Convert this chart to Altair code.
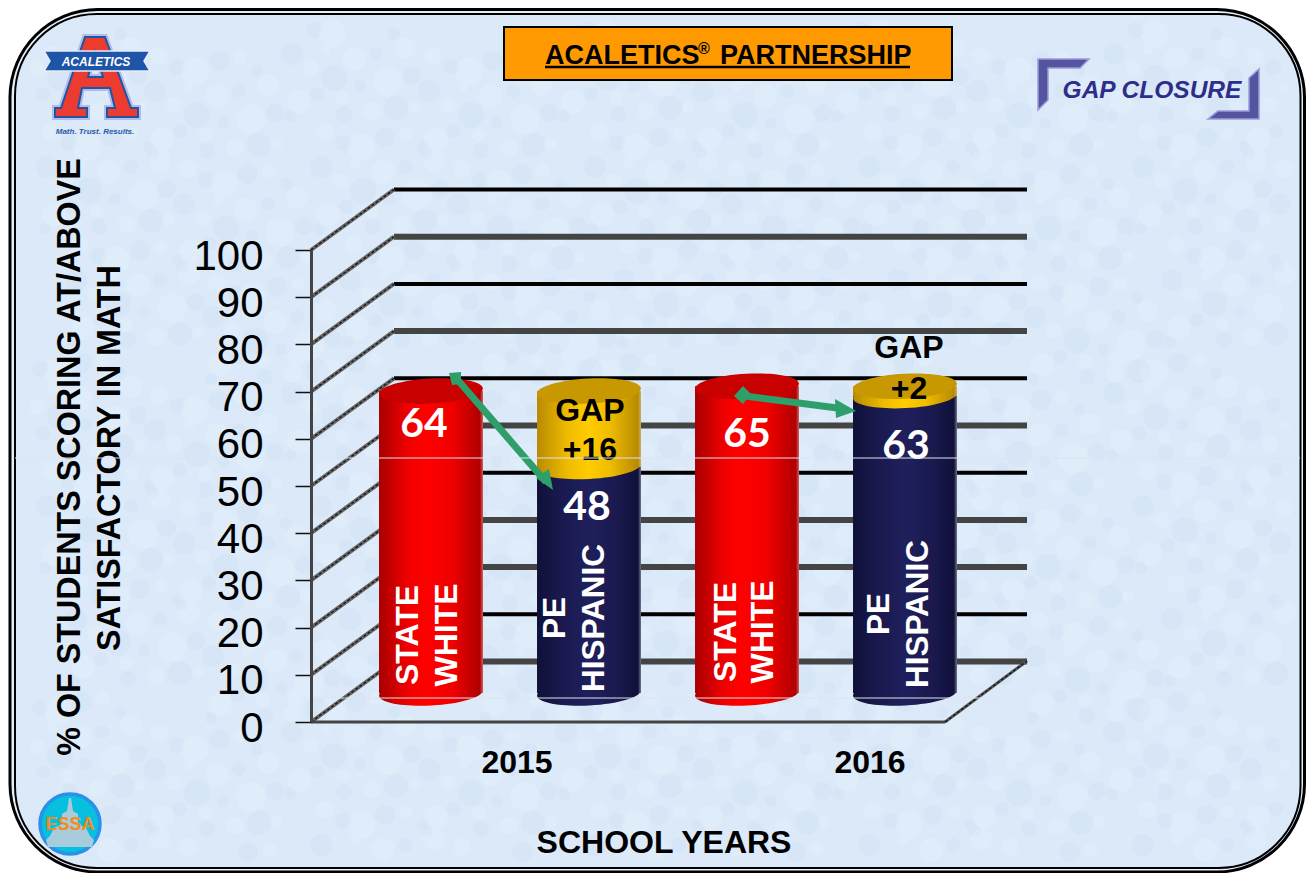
import altair as alt
import pandas as pd

# ---- data ----
ids = ["2015 STATE WHITE", "2015 PE HISPANIC", "2016 STATE WHITE", "2016 PE HISPANIC"]
groups = ["white", "hispanic", "white", "hispanic"]
scores = [64, 48, 65, 63]
gaps = [0, 16, 0, 2]
axis_values = [0, 10, 20, 30, 40, 50, 60, 70, 80, 90, 100]
grid_black = [100, 80, 60, 40, 10]
grid_gray = [90, 70, 50, 30, 20, 0]

# hand placed mottling of the paper texture (x, y, r in a 137x113 tile)
pale_spots = [(12, 9, 9), (48, 24, 14), (93, 11, 7), (121, 38, 11), (27, 58, 8), (70, 49, 12),
              (104, 72, 15), (15, 92, 12), (58, 88, 7), (88, 101, 9), (130, 97, 6), (42, 40, 5)]
blue_spots = [(30, 20, 8), (72, 14, 10), (110, 24, 6), (8, 44, 11), (50, 68, 13), (92, 44, 7),
              (128, 66, 9), (33, 84, 7), (76, 76, 6), (112, 98, 12), (6, 106, 6), (60, 104, 8)]

df = pd.DataFrame({"id": ids, "group": groups, "score": scores, "gap": gaps})
df["total"] = df["score"] + df["gap"]
df["zero"] = 0
white_df = df[df.group == "white"]
hisp_df = df[df.group == "hispanic"]

FONT = "Liberation Sans"
one = alt.Data(values=[{"a": 1}])

x_s = alt.Scale(domain=ids, range=[344, 976], paddingInner=0.342, paddingOuter=0.171)
y_s = alt.Scale(domain=[0, 100], range=[714, 242], nice=False, zero=False)
X = alt.X("id:N", scale=x_s, axis=None, sort=ids)
axis = alt.Axis(values=axis_values, labelFont=FONT, labelFontSize=42, labelColor="black", labelPadding=32,
                labelOffset=6, tickSize=16, tickWidth=1.5, tickColor="#111", domainColor="#444", domainWidth=3,
                offset=-303, zindex=1, title=None, grid=False, labelOverlap=False, labelFlush=False)
def Y(f):
    return alt.Y(f + ":Q", scale=y_s, axis=axis)

OFF = -29
BACK = -60.5
def grad(*stops):
    return {"gradient": "linear", "x1": 0, "x2": 1, "y1": 0, "y2": 0,
            "stops": [{"offset": o, "color": c} for o, c in stops]}

RED = grad((0, "#a80000"), (0.28, "#f00000"), (0.45, "#ff0000"), (0.7, "#f00000"), (0.97, "#b00000"), (1, "#d06060"))
NAVY = grad((0, "#10103a"), (0.25, "#1a1a50"), (0.5, "#1f1f5c"), (0.75, "#1a1a50"), (0.97, "#10103a"), (1, "#70708a"))
GOLD = grad((0, "#b88a00"), (0.3, "#f0bc00"), (0.5, "#ffcc00"), (0.7, "#f0bc00"), (0.97, "#b88a00"), (1, "#c8b060"))
ELL = "M-1,0A1,0.24,0,1,1,1,0A1,0.24,0,1,1,-1,0Z"

def bar(data, lo, hi, fill):
    return alt.Chart(data).mark_bar(fill=fill, yOffset=OFF, y2Offset=OFF).encode(
        x=X, y=Y(hi), y2=alt.Y2(lo + ":Q"))

def ell(data, f, fill):
    return alt.Chart(data).mark_point(shape=ELL, size=104 ** 2, filled=True, fill=fill, opacity=1,
                                      strokeWidth=0, angle=357, yOffset=OFF).encode(x=X, y=Y(f))

def T(text, x, y, size, color="black", font=FONT, weight="bold", angle=0, align="center", style="normal"):
    return alt.Chart(one).mark_text(text=text, font=font, fontSize=size, color=color, fontWeight=weight,
                                    angle=angle, align=align, baseline="middle", fontStyle=style).encode(
        x=alt.value(x - 8), y=alt.value(y - 8))

def P(path, fill, stroke=None, sw=0, opacity=1):
    kw = {"stroke": stroke} if stroke else {}
    return alt.Chart(one).mark_point(shape=path, size=4, filled=True, fill=fill, opacity=opacity, strokeWidth=sw, **kw).encode(
        x=alt.value(-8), y=alt.value(-8))

def R(x1, y1, x2, y2, color, w, dash=None):
    kw = {"strokeDash": dash} if dash else {}
    return alt.Chart(one).mark_rule(color=color, strokeWidth=w, **kw).encode(
        x=alt.value(x1 - 8), x2=alt.value(x2 - 8), y=alt.value(y1 - 8), y2=alt.value(y2 - 8))

def box(x1, y1, x2, y2, fill, stroke, w, r=0):
    return alt.Chart(one).mark_rect(fill=fill, stroke=stroke, strokeWidth=w, cornerRadius=r).encode(
        x=alt.value(x1 - 8), x2=alt.value(x2 - 8), y=alt.value(y1 - 8), y2=alt.value(y2 - 8))

def inside(x, y, r):
    L, Rt, Tp, B, C = 17 + r, 1298 - r, 16 + r, 866 - r, 82
    if not (L <= x <= Rt and Tp <= y <= B):
        return False
    cx = min(max(x, 15 + C), 1300 - C)
    cy = min(max(y, 14 + C), 868 - C)
    return (x - cx) ** 2 + (y - cy) ** 2 <= (C - r - 3) ** 2

def mottle(spots):
    parts = []
    for i in range(10):
        for j in range(8):
            for (sx, sy, r) in spots:
                x, y = 10 + i * 137 + sx + (j % 3) * 29, 10 + j * 113 + sy + (i % 2) * 37
                if inside(x, y, r):
                    parts.append(f"M{x - r},{y}A{r},{r},0,1,1,{x + r},{y}A{r},{r},0,1,1,{x - r},{y}Z")
    return "".join(parts)

layers = []
# frame
layers.append(box(10, 9.5, 1304.5, 872, "#e6eff9", "black", 3, 88))
layers.append(box(15, 14, 1300.5, 868, "#dbe9f8", "black", 2, 82))
layers.append(P(mottle(pale_spots), "#f2f8fe", opacity=0.2))
layers.append(P(mottle(blue_spots), "#c6dcf3", opacity=0.2))

# back gridlines
def back(vals, color, w):
    d = pd.DataFrame({"v": vals})
    return alt.Chart(d).mark_rule(color=color, strokeWidth=w, yOffset=BACK, y2Offset=BACK).encode(
        x=alt.value(386), x2=alt.value(1019), y=Y("v"), y2=alt.Y2("v:Q"))

layers.append(back(grid_gray, "#444444", 6))
layers.append(back(grid_black, "#000000", 4))

# side wall diagonals and floor
diag = pd.DataFrame({"v": axis_values})
layers.append(alt.Chart(diag).mark_rule(color="#666666", strokeWidth=4, y2Offset=BACK).encode(
    x=alt.value(303), x2=alt.value(386), y=Y("v"), y2=alt.Y2("v:Q")))
layers.append(alt.Chart(diag).mark_rule(color="#111111", strokeWidth=1.2, strokeDash=[3, 2], y2Offset=BACK).encode(
    x=alt.value(303), x2=alt.value(386), y=Y("v"), y2=alt.Y2("v:Q")))
layers.append(R(311, 722, 945, 722, "#444444", 3))
layers.append(R(945, 722, 1027, 661, "#555555", 3))
layers.append(R(945, 722, 1027, 661, "#111111", 1.2, [3, 2]))

# cylinders
layers += [
    ell(white_df, "zero", RED), bar(white_df, "zero", "score", RED), ell(white_df, "score", "#c80000"),
    ell(hisp_df, "zero", NAVY), bar(hisp_df, "zero", "score", NAVY),
    bar(hisp_df, "score", "total", GOLD), ell(hisp_df, "score", GOLD), ell(hisp_df, "total", "#c89800"),
]

# value labels
CAL = "Lato"
layers += [T("64", 424, 425, 41, "white", CAL), T("48", 587, 508, 41, "white", CAL),
           T("65", 747, 435, 41, "white", CAL), T("63", 906, 447, 41, "white", CAL)]
# rotated labels
layers += [T("STATE", 408, 635, 32, "white", angle=270), T("WHITE", 447, 635, 32, "white", angle=270),
           T("PE", 556, 618, 31.5, "white", angle=270), T("HISPANIC", 595, 618, 31.5, "white", angle=270),
           T("STATE", 726, 632, 32, "white", angle=270), T("WHITE", 763, 632, 32, "white", angle=270),
           T("PE", 880, 614, 31.5, "white", angle=270), T("HISPANIC", 919, 614, 31.5, "white", angle=270)]
# gap labels
layers += [T("GAP", 590, 411, 32), T("+16", 590, 450, 32), T("GAP", 909, 348, 32), T("+2", 909, 389, 32)]

# arrows
GREEN = "#2e9e6a"
layers += [R(456, 378, 546, 482, GREEN, 7), R(745, 396, 845, 409, GREEN, 7),
           P("M449,373L461,372L461,384L452,385Z", GREEN),
           P("M536,478L553,490L549,469Z", GREEN),
           P("M734,396L743,386L751,394L743,404Z", GREEN),
           P("M835,399L856,411L836,418Z", GREEN)]

# axis and year titles
layers += [T("% OF STUDENTS SCORING AT/ABOVE", 70, 457, 32.3, angle=270),
           T("SATISFACTORY IN MATH", 110, 458, 32.3, angle=270),
           T("2015", 517, 763, 32), T("2016", 870, 763, 32), T("SCHOOL YEARS", 664, 843, 32)]

# title box
layers += [box(504, 27, 952, 80, "#ff9900", "black", 2),
           T("ACALETICS", 545, 56, 27, align="left"), T("\u00ae", 698, 49, 16, align="left"),
           T("PARTNERSHIP", 720, 56, 27, align="left"), R(545, 67, 910, 67, "black", 2.5)]

# GAP CLOSURE badge
layers += [P("M1038,59L1089,59L1080,68L1048,68L1048,100L1038,110Z", "#55559f", "#9a9adc", 1.5),
           P("M1259,69L1259,119L1208,119L1218,111L1249,111L1249,78Z", "#55559f", "#9a9adc", 1.5),
           T("GAP CLOSURE", 1152, 91, 24.5, "#2e2e8a", style="italic")]

# Acaletics logo
A_PATH = ("M85,37L105,37L131,108L138,108L138,117L107,117L107,108L115,108L110,88L82,88L78,108L87,108L87,117"
          "L55,117L55,108L61,108ZM95,52L88,77L103,77Z")
layers += [P(A_PATH, "#ee3b2f", "#b4bce6", 6), P(A_PATH, "#ee3b2f", "#1d55a8", 2),
           P("M44,51L150,51L144,61L150,71L44,71L50,61Z", "#1d55a8", "#e6ecf8", 1.5),
           T("ACALETICS", 96, 62, 12, "white", style="italic"),
           T("Math. Trust. Results.", 95, 132, 8, "#2a5aa8", style="italic")]

# ESSA seal
layers += [P("M40,824A30,30,0,1,1,100,824A30,30,0,1,1,40,824Z", "#06c0e0", "#2a90e8", 3.5),
           P("M69,798L71,798L73,811L78,814L78,824L86,828L90,836L94,840L92,847L48,847L46,840L50,836L54,828L62,824L62,814L67,811Z", "#a8ccdc"),
           T("ESSA", 70, 825, 18, "#f58a20")]

# seams
layers += [R(15, 458, 1300, 458, "#dfe3ee", 1), R(300, 698, 1000, 698, "#dfe3ee", 1)]

chart = alt.layer(*layers).properties(
    width=1298, height=865, padding=0, autosize=alt.AutoSizeParams(type="none"),
    background="white").configure_view(stroke=None)

chart.save("out.html", embed_options={"renderer": "svg", "actions": False})
